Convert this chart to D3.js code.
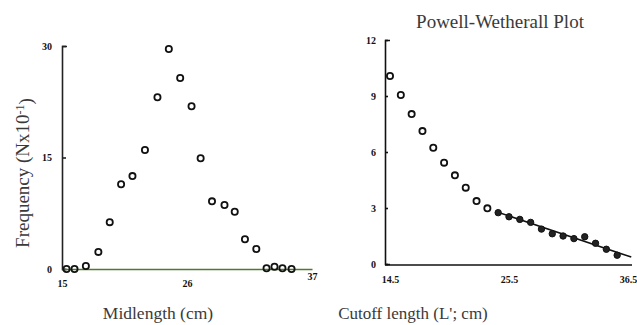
<!DOCTYPE html>
<html>
<head>
<meta charset="utf-8">
<script src="https://cdn.jsdelivr.net/npm/d3@7"></script>
<style>
  body { margin: 0; background: #fff; }
  svg { display: block; }
  .tick text { font-family: "Liberation Serif", serif; font-weight: bold; font-size: 10px; fill: #111; }
  .lbl { font-family: "Liberation Serif", serif; fill: #3a3a3a; }
</style>
</head>
<body>
<script>
// length-frequency (left)
const midLength = [15.4, 16.1, 17.1, 18.2, 19.2, 20.2, 21.2, 22.3, 23.4, 24.4, 25.4,
                   26.4, 27.2, 28.2, 29.3, 30.2, 31.1, 32.1, 33.0, 33.7, 34.4, 35.2];
const frequency = [0, 0, 0.4, 2.3, 6.3, 11.4, 12.5, 16.0, 23.1, 29.6, 25.7,
                   21.9, 14.9, 9.1, 8.6, 7.7, 4.0, 2.7, 0.1, 0.3, 0.1, 0];
const freqTicks = [0, 15, 30];
const midTicks = [15, 26, 37];

// Powell-Wetherall (right)
const openCutoff = [14.5, 15.5, 16.5, 17.5, 18.5, 19.5, 20.5, 21.5, 22.5, 23.5];
const openValue  = [10.07, 9.05, 8.03, 7.12, 6.23, 5.43, 4.75, 4.09, 3.37, 2.98];
const fitCutoff  = [24.5, 25.5, 26.5, 27.5, 28.5, 29.5, 30.5, 31.5, 32.5, 33.5, 34.5, 35.5];
const fitValue   = [2.75, 2.53, 2.39, 2.23, 1.87, 1.62, 1.50, 1.36, 1.46, 1.11, 0.79, 0.47];
const lineCutoff = [24.4, 36.8];
const lineValue  = [2.79, 0.37];
const pwYTicks = [0, 3, 6, 9, 12];
const pwXTicks = [14.5, 25.5, 36.5];

const svg = d3.select("body").append("svg")
  .attr("width", 637).attr("height", 325);

// ---- left chart
const x1 = d3.scaleLinear().domain([15, 37]).range([62, 312]);
const y1 = d3.scaleLinear().domain([0, 30]).range([269, 46]);

const gy1 = svg.append("g")
  .attr("transform", "translate(" + x1(15) + ",0)")
  .call(d3.axisLeft(y1).tickValues(freqTicks).tickFormat(d3.format("d"))
    .tickSize(-4).tickSizeOuter(-5).tickPadding(10));
gy1.selectAll("path, line").attr("stroke", "#222").attr("stroke-width", 1.6);

const gx1 = svg.append("g")
  .attr("transform", "translate(0," + y1(0) + ")")
  .call(d3.axisBottom(x1).tickValues(midTicks).tickFormat(d3.format("d"))
    .tickSize(0).tickPadding(11));
gx1.select(".domain").attr("stroke", "#4e7a2c").attr("stroke-width", 1.6);
gx1.selectAll(".tick text").filter(d => d === 37).attr("dy", "-0.05em");

svg.selectAll(".freq")
  .data(midLength)
  .enter()
  .append("circle")
  .attr("cx", d => x1(d))
  .attr("cy", (d, i) => y1(frequency[i]))
  .attr("r", 3.1)
  .attr("fill", "none")
  .attr("stroke", "#111")
  .attr("stroke-width", 1.8);

svg.append("text")
  .attr("class", "lbl")
  .attr("transform", "translate(29,173) rotate(-90)")
  .attr("text-anchor", "middle")
  .style("font-size", "19px")
  .text("Frequency (Nx10")
  .append("tspan").attr("dy", "-0.45em").style("font-size", "12px").text("-1")
  .select(function () { return this.parentNode; })
  .append("tspan").attr("dy", "0.45em").text(")");

svg.append("text")
  .attr("class", "lbl")
  .attr("x", 158).attr("y", 319)
  .attr("text-anchor", "middle")
  .style("font-size", "17.5px")
  .text("Midlength (cm)");

// ---- right chart
const x2 = d3.scaleLinear().domain([14.5, 36.5]).range([390, 628]);
const y2 = d3.scaleLinear().domain([0, 12]).range([264, 40]);

const gy2 = svg.append("g")
  .attr("transform", "translate(" + (x2(14.5) - 5) + ",0)")
  .call(d3.axisLeft(y2).tickValues(pwYTicks).tickFormat(d3.format("d"))
    .tickSize(-3).tickSizeOuter(-5).tickPadding(9));
gy2.selectAll("path, line").attr("stroke", "#111").attr("stroke-width", 1.6);

const gx2 = svg.append("g")
  .attr("transform", "translate(0," + (y2(0) + 1) + ")")
  .call(d3.axisBottom(x2).tickValues(pwXTicks).tickFormat(d3.format(".1f"))
    .tickSize(0).tickPadding(11));
gx2.select(".domain").remove();

svg.append("line")
  .attr("x1", x2(14.5) - 5).attr("x2", x2(36.5) + 4)
  .attr("y1", y2(0) + 1).attr("y2", y2(0) + 1)
  .attr("stroke", "#111").attr("stroke-width", 1.6);

svg.append("path")
  .datum(lineCutoff)
  .attr("fill", "none")
  .attr("stroke", "#111")
  .attr("stroke-width", 1.6)
  .attr("d", d3.line()
    .x(d => x2(d))
    .y((d, i) => y2(lineValue[i])));

svg.selectAll(".pwopen")
  .data(openCutoff)
  .enter()
  .append("circle")
  .attr("cx", d => x2(d))
  .attr("cy", (d, i) => y2(openValue[i]))
  .attr("r", 3.1)
  .attr("fill", "none")
  .attr("stroke", "#111")
  .attr("stroke-width", 1.8);

svg.selectAll(".pwfit")
  .data(fitCutoff)
  .enter()
  .append("circle")
  .attr("cx", d => x2(d))
  .attr("cy", (d, i) => y2(fitValue[i]))
  .attr("r", 3.2)
  .attr("fill", "#222")
  .attr("stroke", "#111")
  .attr("stroke-width", 1);

svg.append("text")
  .attr("class", "lbl")
  .attr("x", 500).attr("y", 28)
  .attr("text-anchor", "middle")
  .style("font-size", "19px")
  .text("Powell-Wetherall Plot");

svg.append("text")
  .attr("class", "lbl")
  .attr("x", 413).attr("y", 319)
  .attr("text-anchor", "middle")
  .style("font-size", "17px")
  .text("Cutoff length (L'; cm)");
</script>
</body>
</html>
